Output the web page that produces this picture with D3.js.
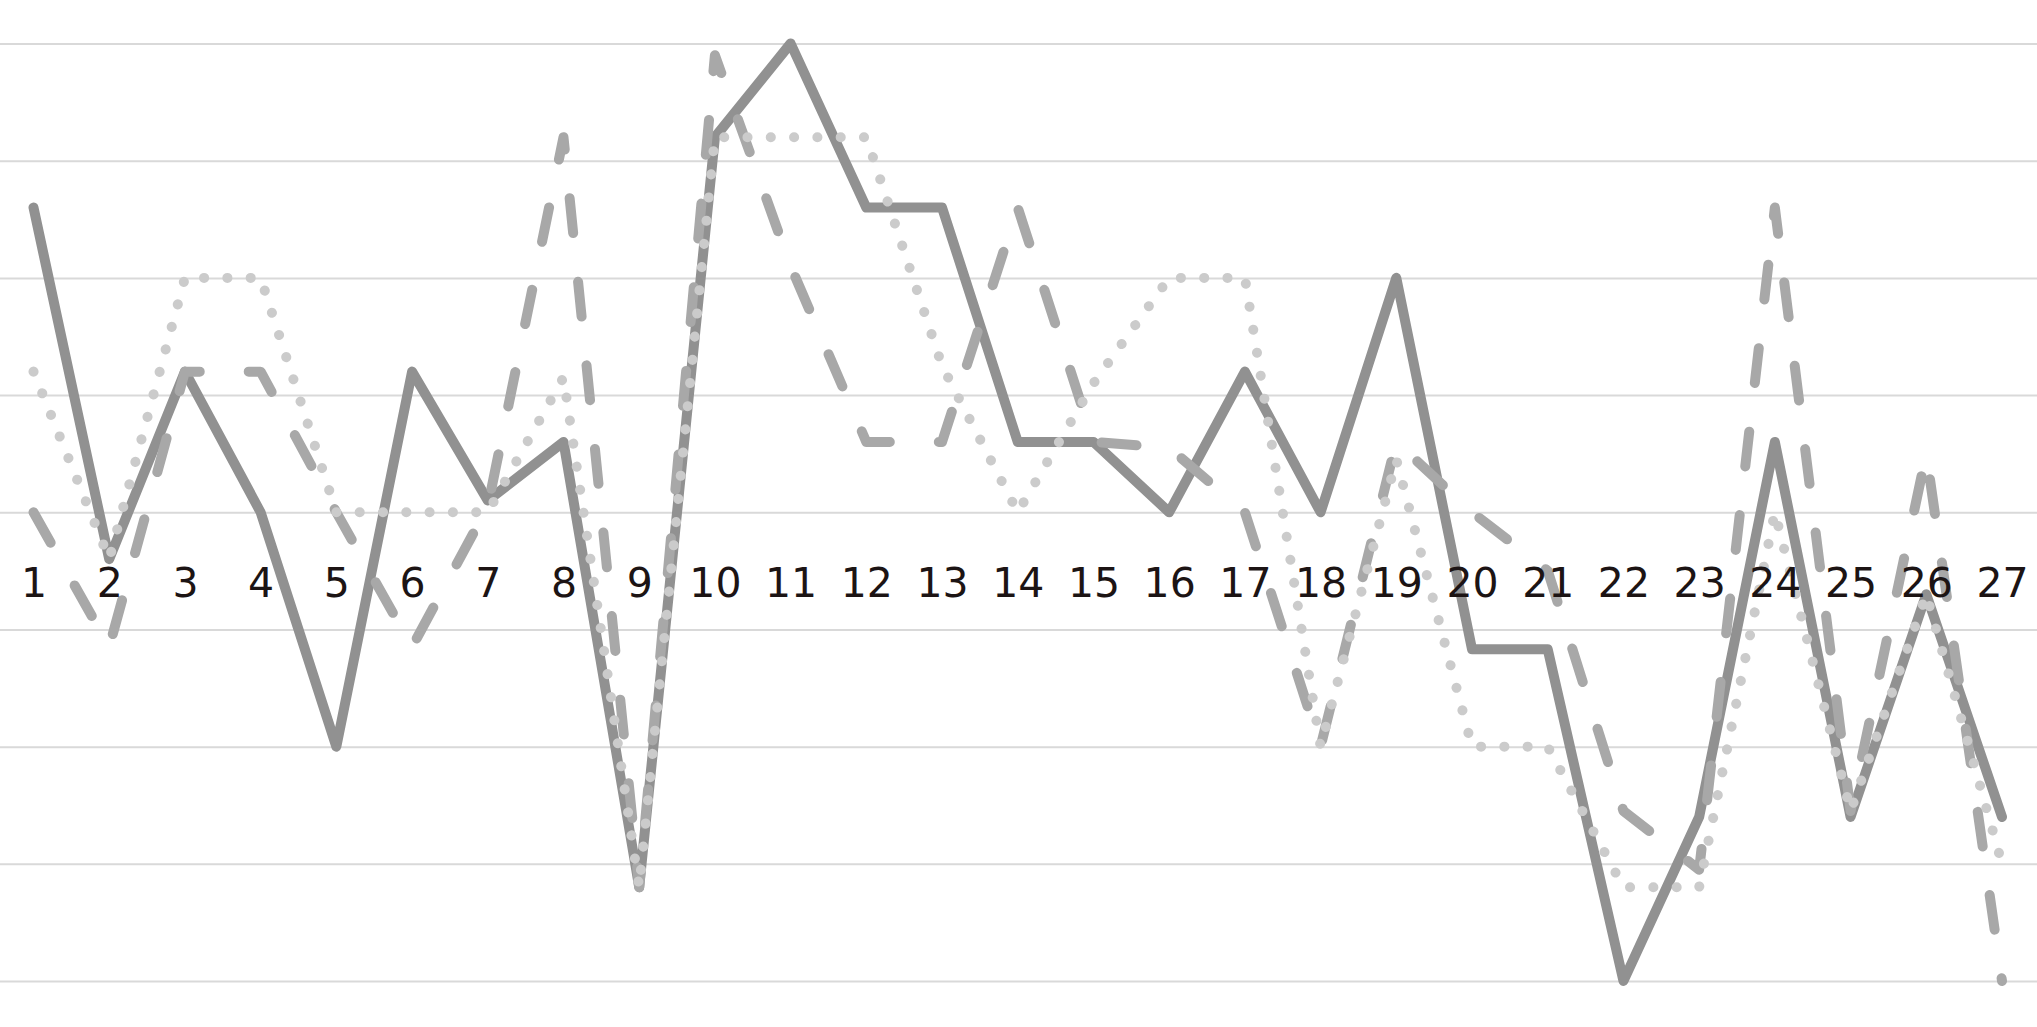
<!DOCTYPE html>
<html>
<head>
<meta charset="utf-8">
<script src="https://cdn.jsdelivr.net/npm/d3@7"></script>
<style>
  body { margin: 0; background: #fff; overflow: hidden; }
</style>
</head>
<body>
<svg id="chart"></svg>
<script>
// categories along the bottom
const categories = ["1","2","3","4","5","6","7","8","9","10","11","12","13","14",
                    "15","16","17","18","19","20","21","22","23","24","25","26","27"]

// series values
const solidSeries  = [2.6, -0.4, 1.2, 0, -2.0, 1.2, 0.1, 0.6, -3.2, 3.2, 4.0, 2.6, 2.6, 0.6,
                      0.6, 0, 1.2, 0, 2.0, -1.17, -1.17, -4.0, -2.6, 0.6, -2.6, -0.7, -2.6]
const dashedSeries = [0, -1.15, 1.2, 1.2, 0, -1.15, 0.05, 3.2, -3.2, 3.9, 2.1, 0.6, 0.6, 2.6,
                      0.6, 0.55, 0, -2.0, 0.6, 0, -0.5, -2.55, -3.05, 2.6, -2.55, 0.5, -4.0]
const dottedSeries = [1.2, -0.4, 2.0, 2.0, 0, 0, 0, 1.15, -3.2, 3.2, 3.2, 3.2, 1.25, 0,
                      1.1, 2.0, 2.0, -2.0, 0.45, -2.0, -2.0, -3.2, -3.2, 0, -2.55, -0.7, -3.0]

// gridline values
const yTicks = [-4, -3, -2, -1, 0, 1, 2, 3, 4]

const width = 2037, height = 1027

const svg = d3.select("#chart")
    .attr("width", width)
    .attr("height", height)

// create scales
let x = d3.scalePoint()
    .domain(categories)
    .range([33.5, 2002])
let y = d3.scaleLinear()
    .domain([-4, 4])
    .range([981, 43.5])

// horizontal gridlines across the whole width
svg.append("g")
    .call(d3.axisLeft(y).tickValues(yTicks).tickSize(-width).tickFormat(""))
    .call(g => g.select(".domain").remove())
    .selectAll("line")
    .attr("stroke", "#d9d9d9")
    .attr("stroke-width", 2)

// one entry per series: values + look
const series = [
    { values: solidSeries,  color: "#919191", width: 10, dash: null },
    { values: dashedSeries, color: "#a8a8a8", width: 10, dash: "35 49" },
    { values: dottedSeries, color: "#cbcbcb", width: 10, dash: "0.1 23.2" }
]

let line = d3.line()
    .x((d, i) => x(categories[i]))
    .y(d => y(d))

series.forEach(s => {
    svg.append("path")
        .datum(s.values)
        .attr("fill", "none")
        .attr("stroke", s.color)
        .attr("stroke-width", s.width)
        .attr("stroke-linejoin", "round")
        .attr("stroke-linecap", "round")
        .attr("stroke-dasharray", s.dash)
        .attr("d", line)
})

// category labels sit below the zero line
let xAxis = svg.append("g")
    .attr("transform", "translate(0," + y(0) + ")")
    .call(d3.axisBottom(x).tickSize(0).tickPadding(56))
xAxis.select(".domain").remove()
xAxis.selectAll("text")
    .attr("fill", "#1c1414")
    .style("font-family", "'DejaVu Sans', Verdana, sans-serif")
    .style("font-size", "41px")
</script>
</body>
</html>
